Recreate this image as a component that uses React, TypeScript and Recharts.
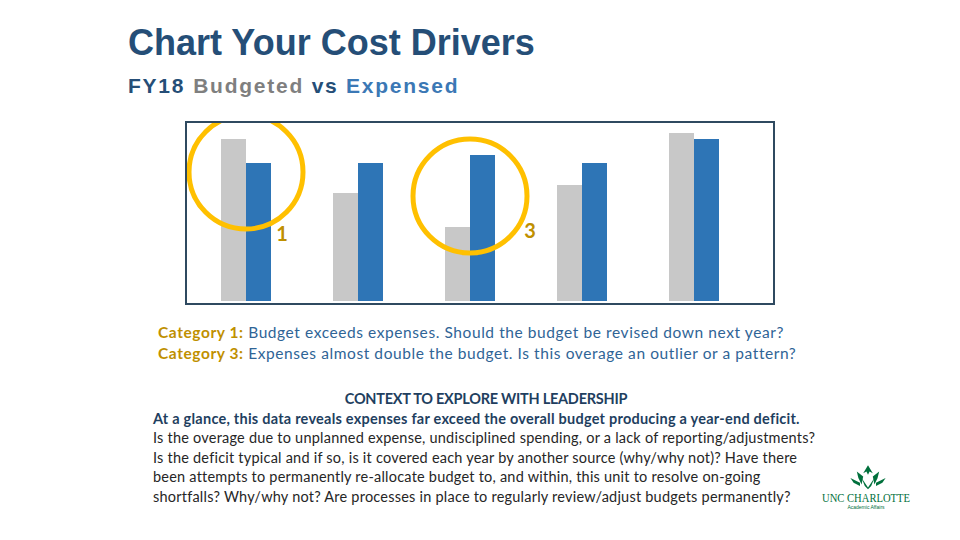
import React from 'react';
import { BarChart, Bar, XAxis, YAxis, ReferenceDot } from 'recharts';

const categories = ['1', '2', '3', '4', '5'];
const budgeted = [162, 108, 74, 116, 168];
const expensed = [138, 138, 146, 138, 162];
const highlights = [
  { category: '1', y: 129, label: '1', dx: 36, dy: 61 },
  { category: '3', y: 105, label: '3', dx: 60, dy: 34 },
];

const notes = [
  { head: 'Category 1:', text: ' Budget exceeds expenses. Should the budget be revised down next year?' },
  { head: 'Category 3:', text: ' Expenses almost double the budget. Is this overage an outlier or a pattern?' },
];

const contextLines = [
  'Is the overage due to unplanned expense, undisciplined spending, or a lack of reporting/adjustments?',
  'Is the deficit typical and if so, is it covered each year by another source (why/why not)? Have there',
  'been attempts to permanently re-allocate budget to, and within, this unit to resolve on-going',
  'shortfalls? Why/why not? Are processes in place to regularly review/adjust budgets permanently?',
];

const data = categories.map((c, i) => ({ name: c, budgeted: budgeted[i], expensed: expensed[i] }));

const GOLD = '#FFC000';
const GOLD_TEXT = '#BF9000';
const bodyFont = 'Lato, "Open Sans", sans-serif';

const circleShape = (dx: number, dy: number, label: string) => (props: any) => {
  const { cx, cy, r } = props;
  return (
    <g>
      <circle cx={cx} cy={cy} r={r} fill="none" stroke={GOLD} strokeWidth={5} />
      <text x={cx + dx} y={cy + dy} fill={GOLD_TEXT} fontSize={20} fontWeight="bold" fontFamily={bodyFont}
        textAnchor="middle" dominantBaseline="central">{label}</text>
    </g>
  );
};

// rough stand-in for the UNC Charlotte mark
const Logo = () => (
  <svg width={130} height={64} style={{ position: 'absolute', left: 800, top: 458 }}>
    <g fill="#00703C" transform="translate(68,4) scale(0.8) translate(-44,0)">
      <polygon points="38,14 44,4 50,14 46,12 44,16 42,12" />
      <polygon points="30,12 38,18 36,28 32,20" />
      <polygon points="58,12 50,18 52,28 56,20" />
      <polygon points="36,20 44,32 52,20 48,30 44,34 40,30" />
      <polygon points="22,20 34,26 34,30 26,26" />
      <polygon points="66,20 54,26 54,30 62,26" />
    </g>
    <text x={66} y={44} fill="#00703C" fontSize={11.5} fontFamily='"Liberation Serif", serif' textAnchor="middle"
      textLength={88} lengthAdjust="spacingAndGlyphs">UNC CHARLOTTE</text>
    <text x={66} y={51} fill="#00703C" fontSize={5} fontFamily="sans-serif" textAnchor="middle">Academic Affairs</text>
  </svg>
);

export default function App() {
  return (
    <div style={{ position: 'absolute', left: 0, top: 0, width: 960, height: 540, background: '#fff', overflow: 'hidden' }}>
      <div style={{ position: 'absolute', left: 128, top: 22, fontFamily: 'Arial, "Liberation Sans", sans-serif', fontWeight: 'bold', fontSize: 36, color: '#254E77', whiteSpace: 'nowrap' }}>
        Chart Your Cost Drivers
      </div>
      <div style={{ position: 'absolute', left: 128, top: 74, fontFamily: 'Arial, "Liberation Sans", sans-serif', fontWeight: 'bold', fontSize: 21, letterSpacing: 1.75, whiteSpace: 'nowrap' }}>
        <span style={{ color: '#254E77' }}>FY18</span>
        <span style={{ color: '#7F7F7F', marginLeft: 8 }}>Budgeted </span>
        <span style={{ color: '#254E77' }}>vs </span>
        <span style={{ color: '#3B78B5' }}>Expensed</span>
      </div>

      <div style={{ position: 'absolute', left: 185, top: 121, width: 590, height: 184, boxSizing: 'border-box', border: '2px solid #2F4A60' }}>
        <BarChart width={586} height={180} data={data} margin={{ top: 8, right: 23, bottom: 2, left: 3 }}
          barSize={25} barGap={0}>
          <XAxis dataKey="name" hide />
          <YAxis hide domain={[0, 170]} />
          <Bar dataKey="budgeted" fill="#C8C8C8" isAnimationActive={false} />
          <Bar dataKey="expensed" fill="#2E75B6" isAnimationActive={false} />
          {highlights.map((h) => (
            <ReferenceDot key={h.category} x={h.category} y={h.y} r={57} ifOverflow="visible"
              shape={circleShape(h.dx, h.dy, h.label)} />
          ))}
        </BarChart>
      </div>

      <div style={{ position: 'absolute', left: 158, top: 322, fontFamily: bodyFont, fontSize: 15.5, letterSpacing: 0.58, lineHeight: '21px', color: '#2F6496', whiteSpace: 'nowrap' }}>
        {notes.map((n) => (
          <div key={n.head}>
            <span style={{ color: GOLD_TEXT, fontWeight: 'bold' }}>{n.head}</span>{n.text}
          </div>
        ))}
      </div>

      <div style={{ position: 'absolute', left: 153, top: 389, width: 666, fontFamily: bodyFont, fontSize: 14.5, letterSpacing: 0.22, lineHeight: '19.5px', color: '#262626', whiteSpace: 'nowrap' }}>
        <div style={{ textAlign: 'center', fontWeight: 'bold', color: '#1F3F5F', letterSpacing: -0.25 }}>CONTEXT TO EXPLORE WITH LEADERSHIP</div>
        <div style={{ fontWeight: 'bold', color: '#1F3F5F', letterSpacing: 0.24 }}>At a glance, this data reveals expenses far exceed the overall budget producing a year-end deficit.</div>
        {contextLines.map((l) => <div key={l}>{l}</div>)}
      </div>

      <Logo />
    </div>
  );
}
